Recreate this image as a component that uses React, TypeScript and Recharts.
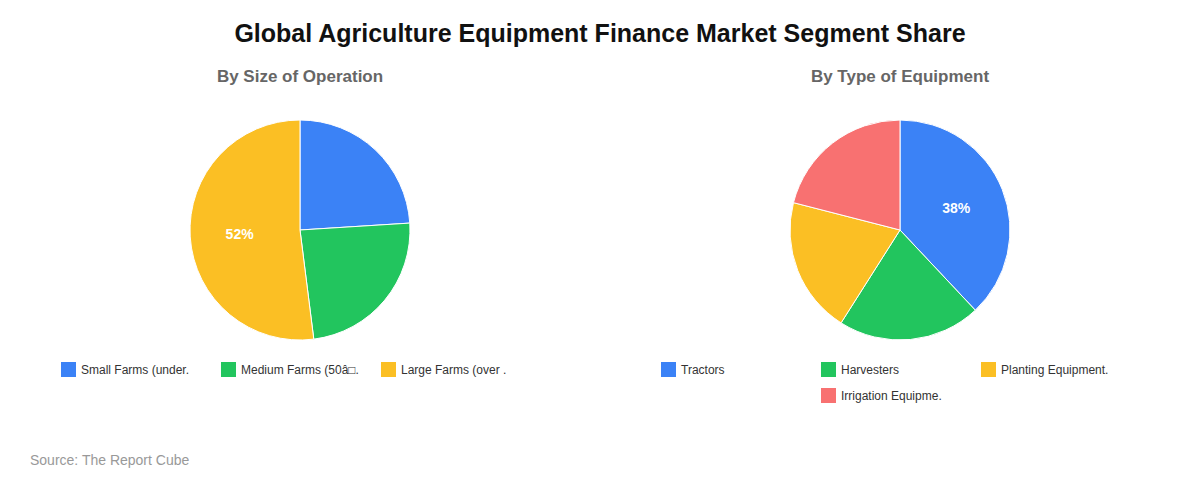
import React from 'react';
import { PieChart, Pie, Cell } from 'recharts';

// Chart data
const sizeLabels = ['Small Farms (under.', 'Medium Farms (50\u00e2\u25a1.', 'Large Farms (over .'];
const sizeShares = [24, 24, 52];

const equipmentLabels = ['Tractors', 'Harvesters', 'Planting Equipment.', 'Irrigation Equipme.'];
const equipmentShares = [38, 21, 20, 21];

const palette = ['#3b82f6', '#22c55e', '#fbbf24', '#f87171'];

const FONT = '"Liberation Sans", Arial, Helvetica, sans-serif';
const RADIAN = Math.PI / 180;

// Only the bigger slices get a percent label inside
const renderLabel = (props: any) => {
    const { cx, cy, midAngle, outerRadius, percent } = props;
    if (percent < 0.3) return null;
    const r = outerRadius * 0.55;
    const x = cx + r * Math.cos(-midAngle * RADIAN);
    const y = cy + r * Math.sin(-midAngle * RADIAN);
    return (
        <text x={x} y={y} fill="#fff" textAnchor="middle" dominantBaseline="central"
            fontFamily={FONT} fontSize={14} fontWeight="bold">
            {`${Math.round(percent * 100)}%`}
        </text>
    );
};

type PanelProps = { title: string; labels: string[]; values: number[]; left: number };

const PiePanel: React.FC<PanelProps> = ({ title, labels, values, left }) => {
    const data = labels.map((name, i) => ({ name, value: values[i] }));
    // legend rows: 3 columns, leftover row is centered
    const rows: number[][] = [];
    for (let i = 0; i < data.length; i += 3) rows.push(data.slice(i, i + 3).map((_, j) => i + j));

    return (
        <div style={{ position: 'absolute', left, top: 0, width: 600, height: 480 }}>
            <div style={{
                position: 'absolute', top: 67, width: 600, textAlign: 'center',
                fontFamily: FONT, fontSize: 17, fontWeight: 'bold', color: '#666',
            }}>
                {title}
            </div>
            <div style={{ position: 'absolute', left: 0, top: 0 }}>
                <PieChart width={600} height={360} margin={{ top: 0, right: 0, bottom: 0, left: 0 }}>
                    <Pie
                        data={data}
                        dataKey="value"
                        nameKey="name"
                        cx={300}
                        cy={230}
                        outerRadius={110}
                        startAngle={90}
                        endAngle={-270}
                        stroke="#fff"
                        strokeWidth={1}
                        label={renderLabel}
                        labelLine={false}
                        isAnimationActive={false}
                    >
                        {data.map((d, i) => <Cell key={d.name} fill={palette[i]} />)}
                    </Pie>
                </PieChart>
            </div>
            {rows.map((row, ri) => (
                <div key={ri} style={{ position: 'absolute', top: 362 + ri * 26, left: 0, width: 600 }}>
                    {row.map((idx, k) => {
                        const col = row.length < 3 ? k + 1 : k;
                        return (
                            <div key={idx} style={{
                                position: 'absolute', left: 61 + col * 160, top: 0,
                                display: 'flex', alignItems: 'center',
                                fontFamily: FONT, fontSize: 12, color: '#333', whiteSpace: 'nowrap',
                            }}>
                                <span style={{ width: 15, height: 15, background: palette[idx], marginRight: 5, display: 'inline-block' }} />
                                {data[idx].name}
                            </div>
                        );
                    })}
                </div>
            ))}
        </div>
    );
};

const App: React.FC = () => {
    return (
        <div style={{ position: 'absolute', left: 0, top: 0, width: 1200, height: 480, background: '#fff' }}>
            <div style={{
                position: 'absolute', top: 19, width: 1200, textAlign: 'center',
                fontFamily: FONT, fontSize: 25, fontWeight: 'bold', color: '#111',
            }}>
                Global Agriculture Equipment Finance Market Segment Share
            </div>
            <PiePanel title="By Size of Operation" labels={sizeLabels} values={sizeShares} left={0} />
            <PiePanel title="By Type of Equipment" labels={equipmentLabels} values={equipmentShares} left={600} />
            <div style={{
                position: 'absolute', left: 30, top: 452,
                fontFamily: FONT, fontSize: 14, color: '#999',
            }}>
                Source: The Report Cube
            </div>
        </div>
    );
};

export default App;
